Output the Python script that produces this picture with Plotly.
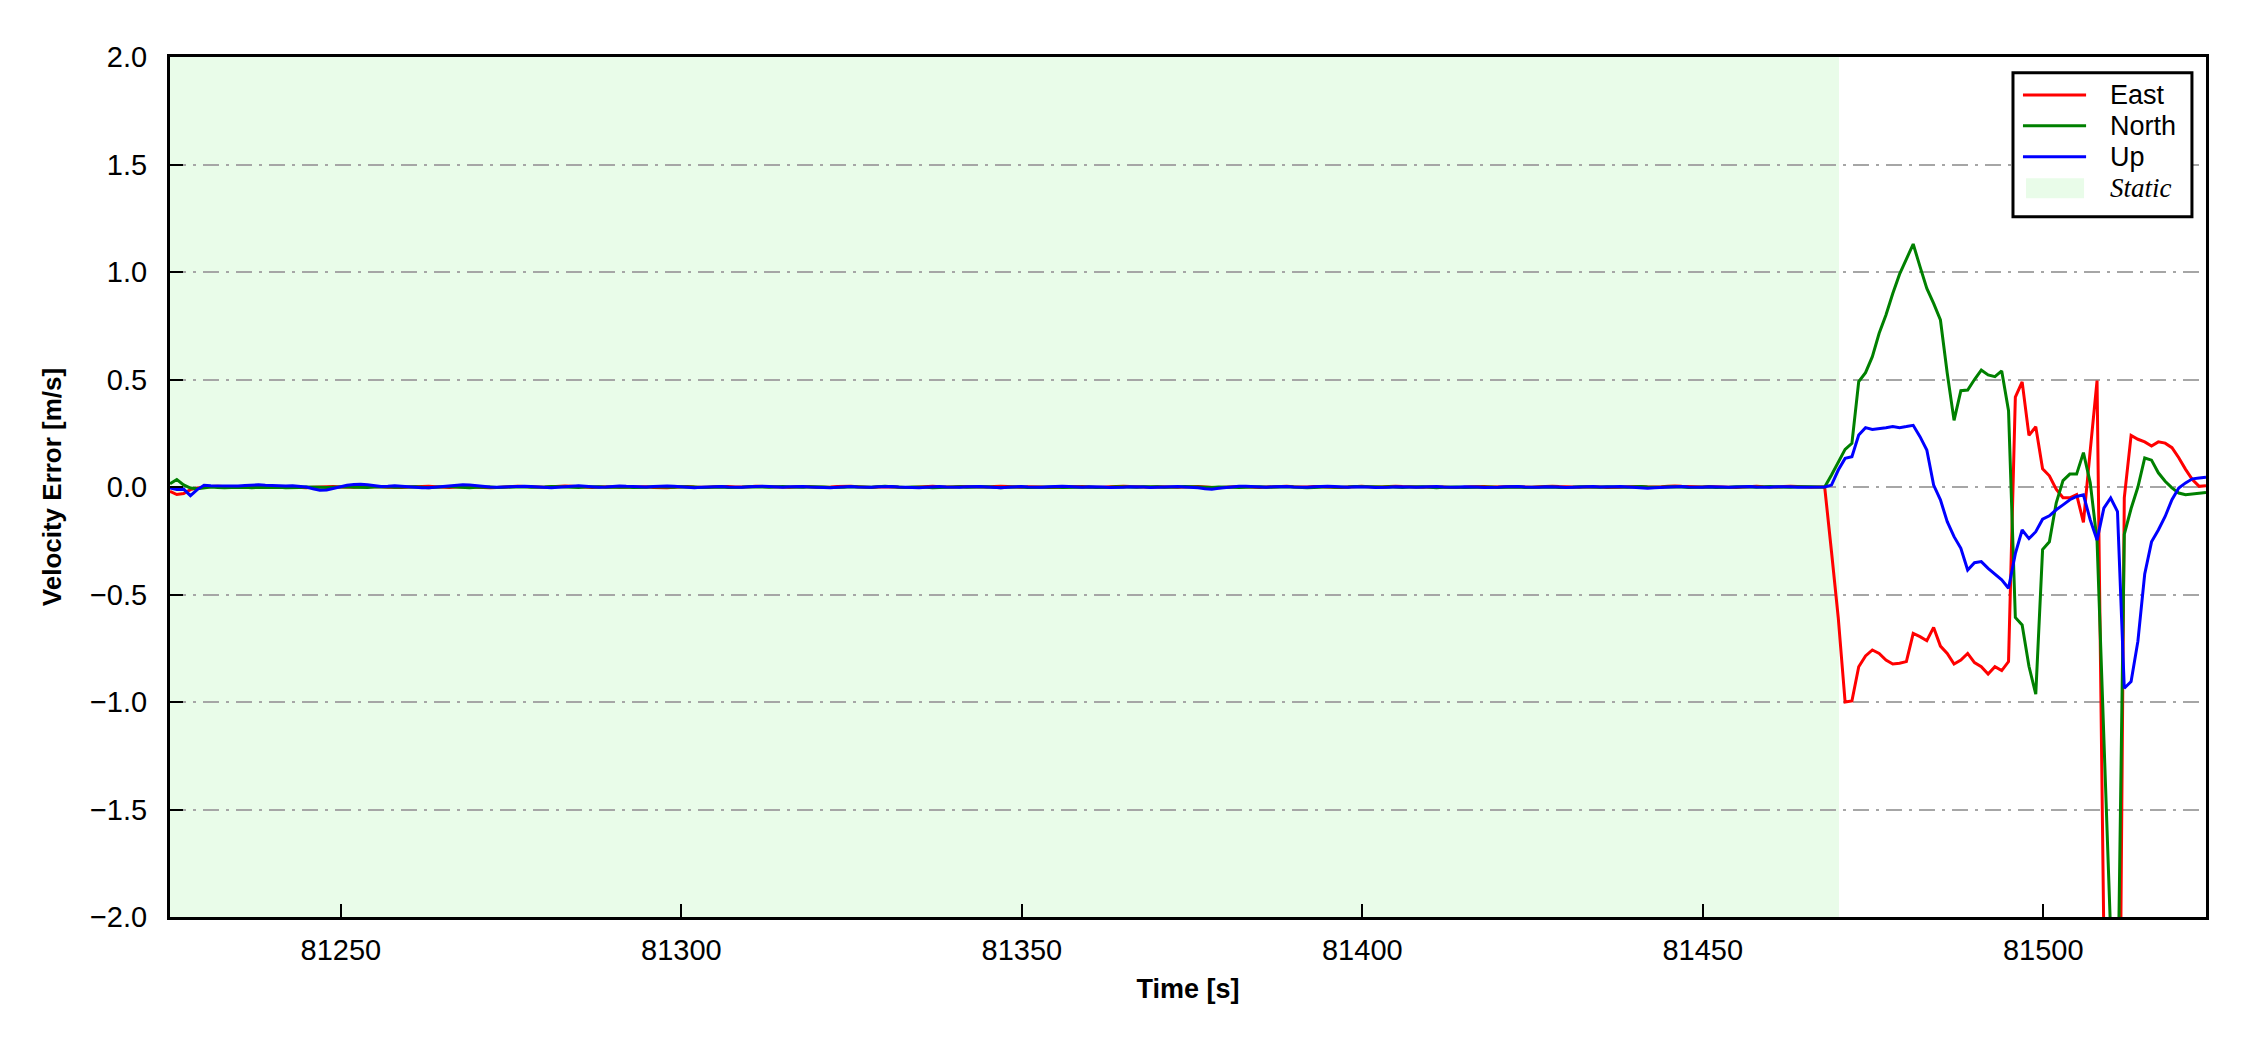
import numpy as np
import plotly.graph_objects as go

# ---- data -------------------------------------------------------------
t_start = 81224.9          # first epoch [s], 1 s sampling, 300 epochs
n_epochs = 300
static_end = 81470.0       # end of the static period [s]

# static part (k = 0..242), values in mm/s
east_static_mm = [
    -20, -35, -30, -12, -5, 0, 2, 3, 1, 0,
    2, 3, 1, -1, 0, 2, 4, 2, 0, -2,
    -3, -1, 1, 3, 2, 0, -2, -1, 1, 2,
    3, 1, -1, -3, -2, 0, 2, 4, 3, 1,
    -1, -2, 0, 2, 1, -1, -3, -4, -2, 0,
    2, 3, 2, 0, -2, -1, 1, 3, 5, 3,
    1, -1, -2, 0, 2, 1, -1, 0, 2, 3,
    1, -2, -4, -3, -1, 1, 2, 0, -2, -1,
    1, 3, 2, 0, -1, 1, 3, 2, 0, -2,
    -3, -1, 1, 2, 1, -1, -2, 0, 2, 4,
    3, 1, -1, -2, 0, 2, 1, -1, -3, -2,
    0, 2, 3, 1, -1, 0, 2, 1, -1, -2,
    0, 2, 4, 2, 0, -1, 1, 2, 0, -2,
    -3, -1, 1, 3, 2, 0, -2, -1, 1, 3,
    4, 2, 0, -2, -1, 1, 2, 0, -1, 1,
    3, 2, 0, -2, -3, -1, 1, 2, 1, -1,
    -2, 0, 2, 4, 3, 1, -1, 0, 2, 1,
    -1, -3, -2, 0, 2, 3, 1, -1, 0, 2,
    4, 2, 0, -2, -1, 1, 2, 0, -2, -3,
    -1, 1, 3, 2, 0, -1, 1, 2, 0, -2,
    -1, 1, 3, 4, 2, 0, -2, -1, 1, 2,
    0, -2, -3, -1, 1, 3, 2, 0, -1, 1,
    3, 5, 3, 1, -1, 0, 2, 1, -1, -3,
    -2, 0, 2, 3, 1, -1, 0, 2, 4, 2,
    0, -1, 0,
]
north_static_mm = [
    15, 35, 10, -5, -8, -3, 0, -2, -4, -2,
    0, -1, -3, -2, 0, 1, -1, -3, -4, -2,
    0, 1, -1, -2, 0, 2, 1, -1, -3, -2,
    0, 2, 1, -1, -2, 0, 1, -1, -3, -1,
    1, 2, 0, -2, -3, -1, 1, 0, -2, -1,
    1, 3, 1, -1, -2, 0, 2, 1, -1, -3,
    -2, 0, 2, 1, -1, 0, 2, 0, -2, -3,
    -1, 1, 0, -2, -1, 1, 2, 0, -2, -1,
    1, 0, -2, -3, -1, 1, 2, 0, -1, 1,
    2, 0, -2, -1, 1, 2, 0, -2, -3, -1,
    1, 0, -2, -1, 1, 3, 1, -1, -2, 0,
    1, -1, -3, -2, 0, 2, 1, -1, 0, 2,
    1, -1, -3, -1, 1, 0, -2, -1, 1, 2,
    0, -2, -1, 1, 2, 0, -2, -3, -1, 1,
    0, -2, -1, 1, 2, 1, -1, -2, 0, 2,
    1, -1, -3, -2, 0, 1, -1, -2, 0, 2,
    1, -1, -2, 0, 1, -1, -3, -4, -2, 0,
    1, -1, -2, 0, 2, 1, -1, -2, 0, 1,
    -1, -2, 0, 2, 1, -1, -3, -1, 1, 0,
    -2, -1, 1, 2, 0, -2, -1, 1, 0, -2,
    -1, 1, 2, 0, -2, -3, -1, 1, 0, -2,
    -1, 1, 2, 0, -1, 1, 2, 0, -2, -1,
    1, 2, 0, -2, -1, 1, 0, -2, -3, -1,
    1, 2, 0, -1, 1, 2, 0, -2, -1, 1,
    2, 1, 0,
]
up_static_mm = [
    -5, -12, -10, -40, -12, 8, 6, 5, 7, 6,
    5, 7, 9, 10, 8, 6, 4, 5, 6, 4,
    0, -8, -15, -14, -6, 2, 8, 12, 13, 10,
    5, 2, 3, 6, 4, 1, -2, -4, -3, 0,
    3, 6, 8, 11, 9, 5, 2, 0, -1, 1,
    3, 5, 4, 2, 0, -2, -3, -1, 2, 4,
    6, 4, 1, -1, 0, 3, 5, 3, 1, -1,
    0, 2, 4, 5, 3, 0, -2, -3, -1, 1,
    3, 2, 0, -2, -1, 1, 3, 4, 2, 0,
    -1, 1, 3, 2, 0, -2, -4, -3, -1, 1,
    2, 0, -2, -1, 1, 3, 2, 0, -2, -4,
    -3, -1, 1, 2, 0, -2, -1, 1, 3, 2,
    0, -2, -3, -1, 1, 2, 0, -2, -1, 1,
    3, 4, 2, 0, -1, 1, 2, 0, -2, -3,
    -1, 1, 2, 0, -2, -1, 1, 3, 2, 0,
    -1, -3, -8, -10, -6, -2, 1, 3, 4, 2,
    0, -1, 1, 3, 2, 0, -2, -1, 1, 3,
    4, 2, 0, -1, 1, 2, 0, -2, -3, -1,
    1, 2, 0, -1, 1, 3, 2, 0, -2, -1,
    1, 2, 0, -2, -3, -1, 1, 3, 2, 0,
    -2, -1, 1, 2, 0, -2, -1, 1, 3, 2,
    0, -1, 1, 2, 0, -2, -4, -6, -3, -1,
    1, 3, 2, 0, -2, -1, 1, 2, 0, -1,
    1, 3, 2, 0, -2, -1, 1, 2, 1, -1,
    0, 1, 0,
]

# dynamic part (k = 243..299, t = 81467.9 .. 81523.9), m/s
east_dynamic = [
    0.0, -0.30, -0.61, -1.00, -0.995, -0.836, -0.786, -0.758, -0.774, -0.805,
    -0.823, -0.82, -0.812, -0.681, -0.696, -0.715, -0.653, -0.74, -0.774, -0.823,
    -0.805, -0.774, -0.817, -0.836, -0.87, -0.836, -0.854, -0.812,
    0.418, 0.489, 0.24, 0.28, 0.085, 0.052, -0.01, -0.05, -0.05, -0.035,
    -0.165, 0.17, 0.495,
    -2.1, -4.0, -4.0,
    -0.05, 0.24, 0.222, 0.21, 0.191, 0.21, 0.204, 0.183, 0.136, 0.082,
    0.035, 0.003, 0.006,
]
north_dynamic = [
    0.0, 0.056, 0.118, 0.175, 0.203, 0.49, 0.532, 0.606, 0.715, 0.80,
    0.90, 0.99, 1.06, 1.13, 1.025, 0.924, 0.854, 0.777, 0.529, 0.31,
    0.448, 0.451, 0.50, 0.544, 0.521, 0.513, 0.54, 0.355,
    -0.607, -0.642, -0.834, -0.964, -0.291, -0.255, -0.075, 0.03, 0.06, 0.06,
    0.16, 0.02, -0.25,
    -1.2, -2.08, -2.5,
    -0.22, -0.1, 0.0, 0.135, 0.125, 0.066, 0.027, -0.004, -0.028, -0.036,
    -0.033, -0.03, -0.025,
]
up_dynamic = [
    0.0, 0.009, 0.079, 0.133, 0.141, 0.242, 0.276, 0.268, 0.271, 0.276,
    0.281, 0.276, 0.281, 0.287, 0.234, 0.172, 0.009, -0.06, -0.161, -0.231,
    -0.285, -0.386, -0.352, -0.347, -0.378, -0.406, -0.432, -0.471,
    -0.31, -0.2, -0.24, -0.208, -0.15, -0.134, -0.106, -0.083, -0.059, -0.044,
    -0.036, -0.153, -0.247,
    -0.098, -0.051, -0.114,
    -0.936, -0.905, -0.717, -0.404, -0.255, -0.2, -0.137, -0.059, -0.005, 0.019,
    0.038, 0.042, 0.045,
]

x_ticks = [81250, 81300, 81350, 81400, 81450, 81500]
y_ticks = [-2.0, -1.5, -1.0, -0.5, 0.0, 0.5, 1.0, 1.5, 2.0]
series_names = ["East", "North", "Up"]
legend_labels = ["East", "North", "Up", "<i>Static</i>"]
# ----------------------------------------------------------------------

time = np.round(t_start + np.arange(n_epochs), 1)
east = np.concatenate([np.array(east_static_mm) / 1000.0, east_dynamic])
north = np.concatenate([np.array(north_static_mm) / 1000.0, north_dynamic])
up = np.concatenate([np.array(up_static_mm) / 1000.0, up_dynamic])

colors = ["#ff0000", "#008000", "#0000ff"]
shade = "#e9fce9"
FONT = "Liberation Sans, Arial, sans-serif"
SERIF = "Liberation Serif, Times New Roman, serif"

fig = go.Figure()
for name, vals, c in zip(series_names, [east, north, up], colors):
    fig.add_trace(go.Scatter(x=time, y=vals, mode="lines", name=name,
                             line=dict(color=c, width=3.0), showlegend=False))

# static period shading (below grid)
fig.add_shape(type="rect", xref="x", yref="paper", x0=time[0], x1=static_end,
              y0=0, y1=1, fillcolor=shade, line=dict(width=0), layer="below")

# ---- legend drawn as a framed box (paper coords of the plot area) ----
box = dict(x0=0.9052, x1=0.9931, y0=0.8143, y1=0.9817)
row_y = [0.9558, 0.9201, 0.8841, 0.8473]
sample_x0, sample_x1, text_x = 0.9101, 0.9411, 0.9519
fig.add_shape(type="rect", xref="paper", yref="paper", **box,
              fillcolor="white", line=dict(color="black", width=3), layer="above")
for i, c in enumerate(colors):
    fig.add_shape(type="line", xref="paper", yref="paper",
                  x0=sample_x0, x1=sample_x1, y0=row_y[i], y1=row_y[i],
                  line=dict(color=c, width=3.0), layer="above")
fig.add_shape(type="rect", xref="paper", yref="paper",
              x0=0.9116, x1=0.9401, y0=row_y[3] - 0.0116, y1=row_y[3] + 0.0116,
              fillcolor=shade, line=dict(width=0), layer="above")
for i, lab in enumerate(legend_labels):
    fig.add_annotation(xref="paper", yref="paper", x=text_x, y=row_y[i],
                       text=lab, showarrow=False, xanchor="left", yanchor="middle",
                       font=dict(family=SERIF if i == 3 else FONT, size=27, color="black"))

fig.update_layout(
    width=2242, height=1042,
    margin=dict(l=162, r=44, t=49, b=133, autoexpand=False),
    paper_bgcolor="white", plot_bgcolor="white",
    font=dict(family=FONT, size=28, color="black"),
    showlegend=False,
)
fig.update_xaxes(
    range=[time[0], time[-1]], tickvals=x_ticks, ticktext=[str(v) for v in x_ticks],
    ticks="inside", ticklen=13, tickwidth=2, tickcolor="black",
    showline=True, linecolor="black", linewidth=3, mirror=True,
    showgrid=False, zeroline=False,
    tickfont=dict(family=FONT, size=29, color="black"),
    ticklabelstandoff=5,
    title=dict(text="<b>Time [s]</b>", font=dict(family=FONT, size=27, color="black"),
               standoff=15),
)
fig.update_yaxes(
    range=[-2, 2], tickvals=y_ticks, ticktext=[f"{v:.1f}".replace("-", "\u2212") for v in y_ticks],
    ticks="inside", ticklen=13, tickwidth=2, tickcolor="black",
    showline=True, linecolor="black", linewidth=3, mirror=True,
    showgrid=True, gridcolor="#a6a6a6", gridwidth=2, griddash="16px,7px,3px,7px",
    zeroline=False,
    tickfont=dict(family=FONT, size=29, color="black"),
    ticklabelstandoff=14,
    title=dict(text="<b>Velocity Error [m/s]</b>", font=dict(family=FONT, size=26, color="black"),
               standoff=21),
)

fig.write_html("out.html")
